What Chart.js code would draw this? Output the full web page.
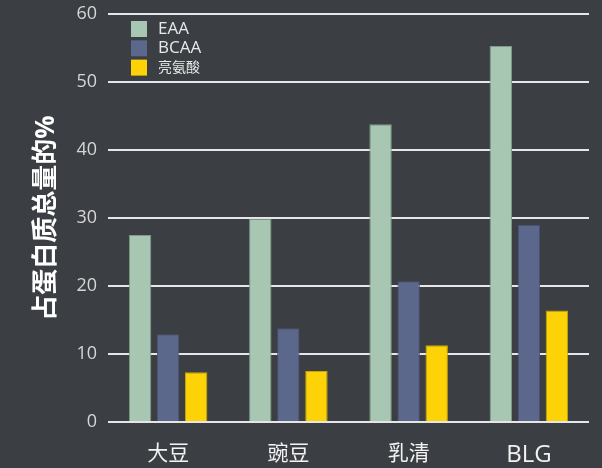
<!DOCTYPE html>
<html>
<head>
<meta charset="utf-8">
<script src="https://cdn.jsdelivr.net/npm/chart.js@4"></script>
<style>
  html, body { margin: 0; padding: 0; background: #3b3e42; }
  #wrap { width: 602px; height: 468px; }
</style>
</head>
<body>
<div id="wrap"><canvas id="bar-chart"></canvas></div>
<script>
var categories = ["大豆", "豌豆", "乳清", "BLG"];
var eaa = [27.5, 29.9, 43.8, 55.3];
var bcaa = [12.9, 13.8, 20.7, 29.0];
var leucine = [7.3, 7.5, 11.3, 16.4];
var yTicks = [0, 10, 20, 30, 40, 50, 60];

var fontFamily = "'Open Sans', 'Noto Sans CJK SC', sans-serif";

// legend drawn inside the plot area, top left
var innerLegend = {
  id: 'innerLegend',
  afterDraw: function (chart) {
    var ctx = chart.ctx;
    var area = chart.chartArea;
    var x = area.left + 23;
    var y = area.top + 7;
    ctx.save();
    ctx.textBaseline = 'middle';
    ctx.textAlign = 'left';
    chart.data.datasets.forEach(function (ds, i) {
      var top = y + i * 19.3;
      ctx.fillStyle = ds.backgroundColor;
      ctx.fillRect(x, top, 16, 16);
      var cjk = /[^\x00-\x7f]/.test(ds.label);
      ctx.font = (cjk ? 14 : 17) + "px " + fontFamily;
      ctx.fillStyle = "#e8e8e8";
      ctx.fillText(ds.label, x + 27, top + 8);
    });
    ctx.restore();
  }
};

new Chart(document.getElementById("bar-chart"), {
    type: 'bar',
    data: {
      labels: categories,
      datasets: [
        {
          label: "EAA",
          backgroundColor: "#a8c7b3",
          borderColor: "#80998a",
          borderWidth: 1,
          data: eaa
        },
        {
          label: "BCAA",
          backgroundColor: "#5c678c",
          borderColor: "#4a5372",
          borderWidth: 1,
          data: bcaa
        },
        {
          label: "亮氨酸",
          backgroundColor: "#fdd206",
          borderColor: "#c9a800",
          borderWidth: 1,
          data: leucine
        }
      ]
    },
    plugins: [innerLegend],
    options: {
      responsive: true,
      maintainAspectRatio: false,
      animation: false,
      layout: { padding: { top: 14, right: 13, bottom: 0, left: 0 } },
      datasets: { bar: { categoryPercentage: 0.7, barPercentage: 0.8 } },
      plugins: {
        tooltip: { enabled: false },
        legend: { display: false }
      },
      scales: {
        x: {
          grid: { display: false, drawTicks: false },
          border: { display: false },
          ticks: {
            color: "#f2f2f2",
            padding: 19,
            font: function (c) {
              var big = c.tick && /^[\x00-\x7f]+$/.test(c.tick.label);
              return { family: fontFamily, size: big ? 24 : 21 };
            }
          },
          afterFit: function (scale) { scale.height = 46; }
        },
        y: {
          min: 0,
          max: 60,
          afterBuildTicks: function (scale) {
            scale.ticks = yTicks.map(function (v) { return { value: v }; });
          },
          grid: { color: "#e6e6e6", lineWidth: 2, drawTicks: false },
          border: { display: false },
          ticks: {
            color: "#d6d6d6",
            padding: 11,
            font: { family: fontFamily, size: 18 }
          },
          title: {
            display: true,
            text: "占蛋白质总量的%",
            color: "#ffffff",
            padding: { top: 31, bottom: 10 },
            font: { family: fontFamily, size: 26, weight: 'bold' }
          },
          afterFit: function (scale) {
            scale.width = 108;
            scale.paddingTop = 0;
            scale.paddingBottom = 0;
          }
        }
      }
    }
});
</script>
</body>
</html>
